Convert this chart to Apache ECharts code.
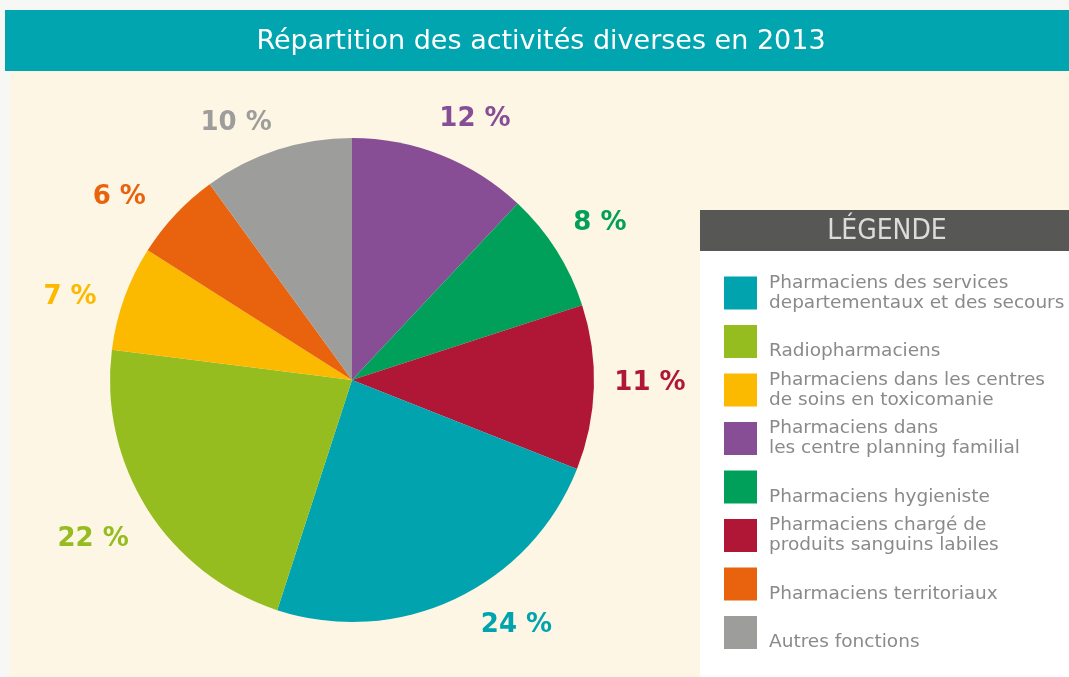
<!DOCTYPE html>
<html>
<head>
<meta charset="utf-8">
<script src="https://cdn.jsdelivr.net/npm/echarts@6/dist/echarts.min.js"></script>
<style>
  html, body { margin: 0; padding: 0; background: #f7f7f5; }
  #chart { width: 1069px; height: 677px; }
</style>
</head>
<body>
<div id="chart"></div>
<script>
// slices, clockwise from 12 o'clock
const categories = [
  'Pharmaciens dans les centre planning familial',
  'Pharmaciens hygieniste',
  'Pharmaciens chargé de produits sanguins labiles',
  'Pharmaciens des services departementaux et des secours',
  'Radiopharmaciens',
  'Pharmaciens dans les centres de soins en toxicomanie',
  'Pharmaciens territoriaux',
  'Autres fonctions',
]
const values = [12, 8, 11, 24, 22, 7, 6, 10]
const colors = ['#874e96', '#00a05a', '#b01636', '#00a3ae', '#95bd1f', '#fbb900', '#e9630f', '#9d9d9c']
// small nudges of the % labels, as placed by hand in the original
const labelNudge = [[25, 12], [7, 6], [6, 2], [31, -16], [-18, -8], [-4, 5], [-13, 8], [-16, 16]]

// legend order and wrapped text
const legendOrder = [3, 4, 5, 0, 1, 2, 6, 7]
const legendLabels = {
  'Pharmaciens des services departementaux et des secours': 'Pharmaciens des services\ndepartementaux et des secours',
  'Radiopharmaciens': '\nRadiopharmaciens',
  'Pharmaciens dans les centres de soins en toxicomanie': 'Pharmaciens dans les centres\nde soins en toxicomanie',
  'Pharmaciens dans les centre planning familial': 'Pharmaciens dans\nles centre planning familial',
  'Pharmaciens hygieniste': '\nPharmaciens hygieniste',
  'Pharmaciens chargé de produits sanguins labiles': 'Pharmaciens chargé de\nproduits sanguins labiles',
  'Pharmaciens territoriaux': '\nPharmaciens territoriaux',
  'Autres fonctions': '\nAutres fonctions',
}

const chart = echarts.init(document.getElementById('chart'))

const pieData = categories.map((name, i) => ({ name: name, value: values[i] }))
// transparent copy, only used to place the % labels around the pie
const labelData = categories.map((name, i) => ({
  name: name,
  value: values[i],
  label: { color: colors[i], offset: labelNudge[i] },
}))

chart.setOption({
  backgroundColor: '#f7f7f5',
  color: colors,
  animation: false,
  graphic: [
    { type: 'rect', shape: { x: 10, y: 70, width: 1069, height: 620 }, style: { fill: '#fdf6e4' }, z: -10 },
    { type: 'rect', shape: { x: 5, y: 10, width: 1069, height: 61 }, style: { fill: '#00a5af' }, z: -9 },
    {
      type: 'text', x: 541, y: 42, z: 5,
      style: {
        text: 'Répartition des activités diverses en 2013',
        fill: '#ffffff', font: '27px "DejaVu Sans"',
        textAlign: 'center', textVerticalAlign: 'middle',
      },
    },
    { type: 'rect', shape: { x: 700, y: 210, width: 369, height: 41 }, style: { fill: '#575756' }, z: -8 },
    { type: 'rect', shape: { x: 700, y: 251, width: 369, height: 440 }, style: { fill: '#ffffff' }, z: -8 },
    {
      type: 'text', x: 887, y: 232, z: 5,
      style: {
        text: 'LÉGENDE',
        fill: '#dcdcdc', font: '28px "DejaVu Sans Condensed", "DejaVu Sans"',
        textAlign: 'center', textVerticalAlign: 'middle',
      },
    },
  ],
  legend: {
    orient: 'vertical',
    left: 724,
    top: 273,
    padding: 0,
    itemWidth: 33,
    itemHeight: 33,
    itemGap: 8.5,
    icon: 'rect',
    selectedMode: false,
    data: legendOrder.map(i => categories[i]),
    formatter: name => legendLabels[name],
    textStyle: {
      color: '#8a8a8a',
      fontSize: 18.5,
      lineHeight: 20,
      fontFamily: 'DejaVu Sans',
      padding: [0, 0, 0, 7],
    },
  },
  series: [
    {
      type: 'pie',
      center: [352, 380],
      radius: 242,
      startAngle: 90,
      clockwise: true,
      label: { show: false },
      labelLine: { show: false },
      itemStyle: { borderWidth: 0 },
      emphasis: { disabled: true },
      data: pieData,
    },
    {
      type: 'pie',
      center: [352, 382],
      radius: [0, 578],
      startAngle: 92,
      clockwise: true,
      silent: true,
      z: 1,
      itemStyle: { color: 'rgba(0,0,0,0)', borderWidth: 0 },
      label: {
        show: true,
        position: 'inside',
        formatter: '{c} %',
        fontSize: 26,
        fontWeight: 'bold',
        fontFamily: 'DejaVu Sans',
      },
      labelLine: { show: false },
      emphasis: { disabled: true },
      data: labelData,
    },
  ],
})
</script>
</body>
</html>
